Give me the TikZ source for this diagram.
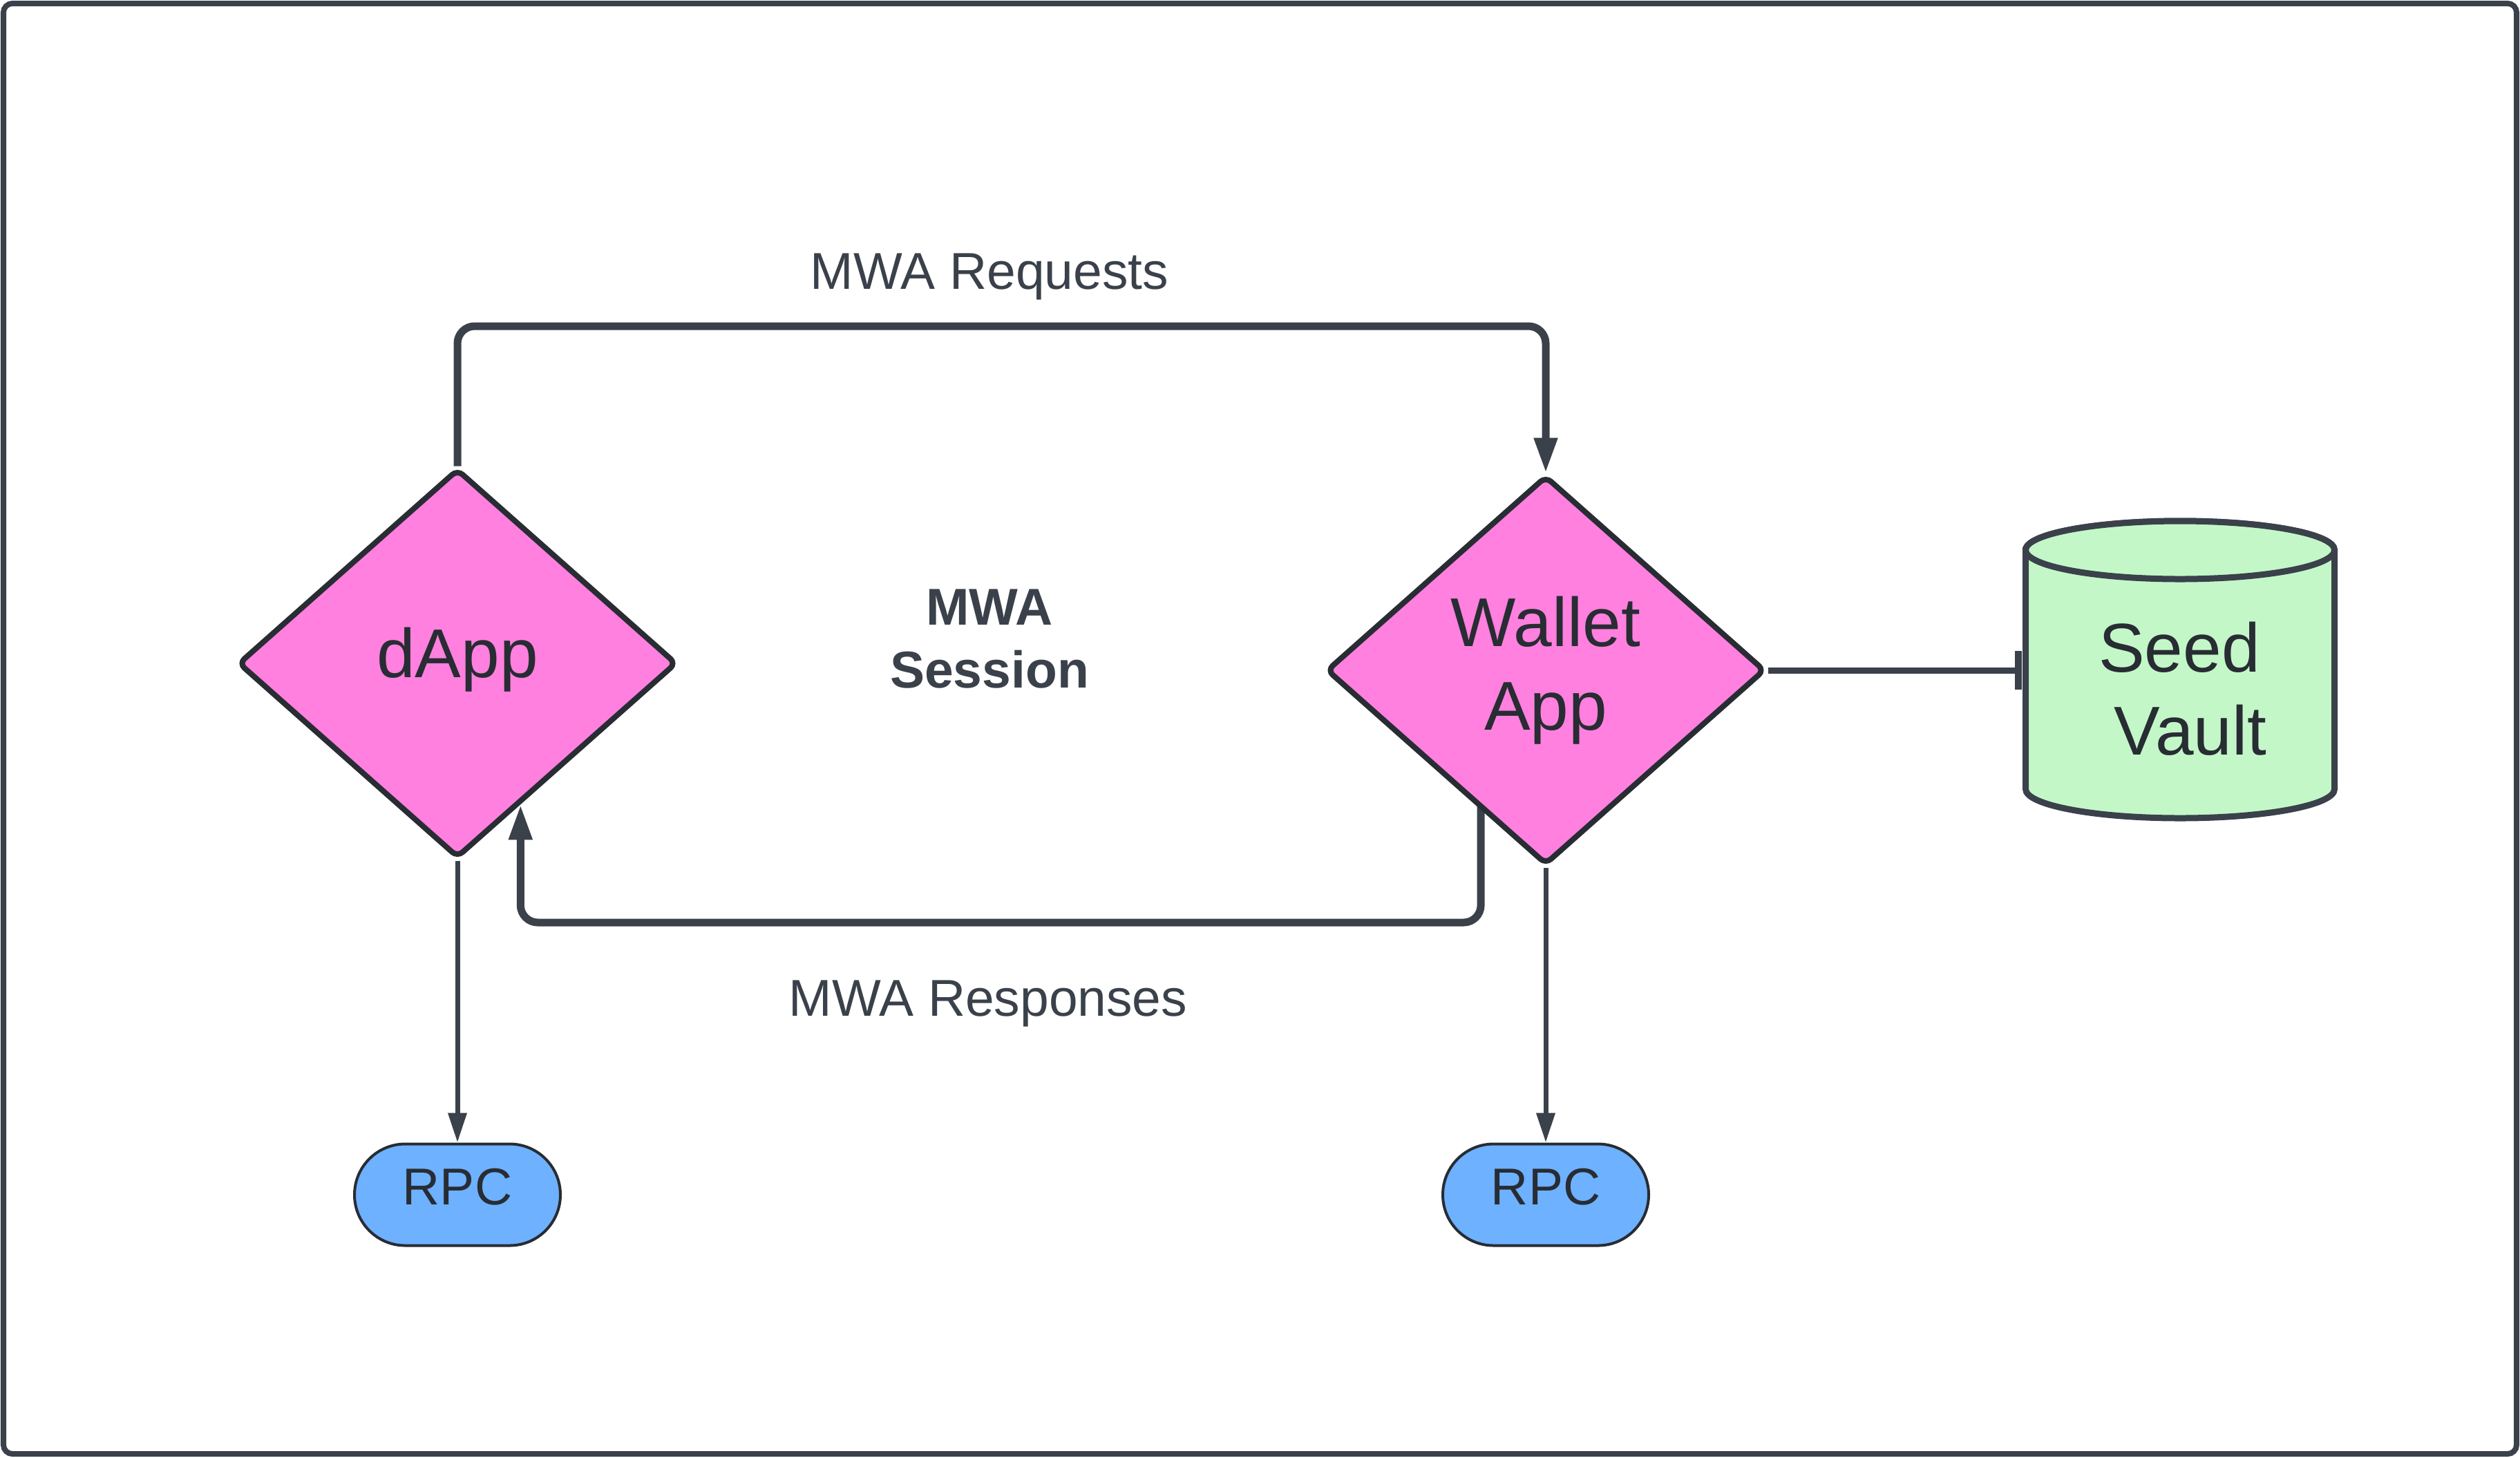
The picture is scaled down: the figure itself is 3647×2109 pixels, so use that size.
\documentclass[tikz,border=0pt]{standalone}
\usepackage{fontspec}
\setmainfont{Liberation Sans}
\usetikzlibrary{arrows.meta,shapes.geometric,calc,backgrounds}
\definecolor{lineC}{HTML}{3A414A}
\definecolor{edgeC}{HTML}{282C33}
\definecolor{textC}{HTML}{282C33}
\definecolor{labelC}{HTML}{3A414A}
\definecolor{pinkC}{HTML}{FF80DF}
\definecolor{greenC}{HTML}{C3F7C8}
\definecolor{blueC}{HTML}{6DB1FF}
\begin{document}
\begin{tikzpicture}[x=0.2pt,y=-0.2pt,
  decision/.style={diamond, draw=edgeC, fill=pinkC, line width=1.6pt, rounded corners=2pt,
    minimum width=127pt, minimum height=112.6pt, inner sep=0pt, text=textC,
    font=\fontsize{20pt}{24.2pt}\selectfont, align=center},
  rpcbox/.style={rectangle, draw=edgeC, fill=blueC, line width=0.8pt, rounded corners=14.7pt,
    minimum width=59.6pt, minimum height=29.4pt, inner sep=0pt, text=textC,
    font=\fontsize{15pt}{18pt}\selectfont, text height=10.7pt, text depth=5.1pt},
  vaultbox/.style={rectangle, draw=none, minimum width=91.2pt, minimum height=87.6pt, inner sep=0pt},
  vaultshape/.style={draw=lineC, fill=greenC, line width=1.8pt},
  seedtext/.style={text=textC, font=\fontsize{20pt}{24pt}\selectfont, align=center, inner sep=0pt},
  flowlabel/.style={text=labelC, font=\fontsize{15pt}{18pt}\selectfont, inner sep=0pt},
  boldlabel/.style={text=labelC, font=\fontsize{15pt}{18.2pt}\selectfont\bfseries, align=center, inner sep=0pt},
  mainflow/.style={draw=lineC, line width=2.2pt, rounded corners=5pt, -{Triangle[length=10.2pt,width=6.4pt]}},
  rpcflow/.style={draw=lineC, line width=1.4pt, -{Triangle[length=8.6pt,width=5.2pt]}},
  vaultlink/.style={draw=lineC, line width=1.8pt, -{Rectangle[length=2pt,width=11.2pt]}},
  frame/.style={draw=lineC, line width=1.6pt, rounded corners=2.6pt}
]
\useasboundingbox (0,0) rectangle (3647,2109);
\draw[frame] (5,5) rectangle (3642,2104);

% nodes
\node[decision, text height=14.7pt, text depth=6.7pt] (dapp) at (662,960) {dApp};
\node[decision] (wallet) at (2237,970) {Wallet\\App};
\node[rpcbox] (rpcd) at (662,1729) {RPC};
\node[rpcbox] (rpcw) at (2237,1729) {RPC};
\node[vaultbox] (vault) at (3155,969) {};

% cylinder
\draw[vaultshape] (2931.5,796) -- (2931.5,1142)
  arc[start angle=180, end angle=0, x radius=223.5, y radius=42]
  -- (3378.5,796)
  arc[start angle=0, end angle=-180, x radius=223.5, y radius=42] -- cycle;
\draw[vaultshape] (3155,796) ellipse[x radius=223.5, y radius=42];
\node[seedtext] (seedlabel) at (3154,997) {Seed\\\hspace*{6.4pt}Vault};

% labels
\node[flowlabel, anchor=base] (reqlabel) at (1432,418) {MWA Requests};
\node[flowlabel, anchor=base] (resplabel) at (1430,1470) {MWA Responses};
\node[boldlabel] (session) at (1432,925) {MWA\\Session};

% connectors
\coordinate (reqy) at (0,472);
\coordinate (respy) at (0,1335);
\coordinate (rs) at ($(wallet.south)!0.292!(wallet.west)$);
\coordinate (rsin) at ($(rs)+(0,-20)$);
\coordinate (re) at ($(dapp.south)!0.284!(dapp.east)$);
\begin{scope}[on background layer]
\draw[mainflow] (dapp.north) -- (dapp.north |- reqy) -| (wallet.north);
\draw[mainflow] (rsin) -- (rs |- respy) -- (re |- respy) -- (re);
\draw[rpcflow] (dapp.south) -- (rpcd.north);
\draw[rpcflow] (wallet.south) -- (rpcw.north);
\draw[vaultlink] (wallet.east) -- (wallet.east -| vault.west);
\end{scope}
\end{tikzpicture}
\end{document}
